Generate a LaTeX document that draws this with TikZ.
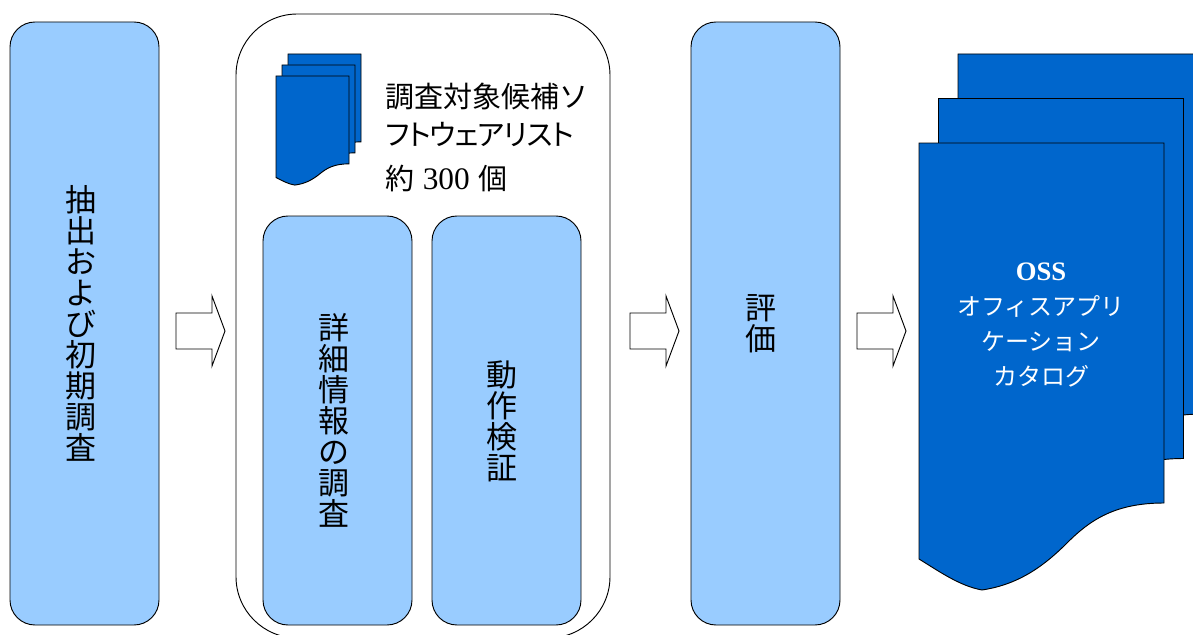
\documentclass[tikz,border=0pt]{standalone}
\usepackage{fontspec}
\setmainfont{Liberation Serif}
\newfontfamily\cjk{Noto Sans CJK JP}
\definecolor{lightblue}{HTML}{99CCFF}
\definecolor{docblue}{HTML}{0066CC}
\newcommand{\sheetpath}{(0,0) -- (245,0) -- (245,360) .. controls (196,360) and (171,377) .. (148,400) .. controls (121,427) and (96,442) .. (63,447) .. controls (41,443) and (21,429) .. (0,416) -- cycle}
\newcommand{\blockarrow}[2]{\draw[arrowline] (#1,#2) ++(0,-18) -- ++(36,0) -- ++(0,-17) -- ++(13,35) -- ++(-13,35) -- ++(0,-17) -- ++(-36,0) -- cycle;}
\tikzset{
  x=0.75pt,y=-0.75pt,
  panel/.style={draw=black,line width=0.7pt,fill=lightblue,rounded corners=18.75pt,minimum width=111.75pt,inner sep=0pt},
  outerpanel/.style={draw=black,line width=0.7pt,fill=white,rounded corners=46pt,minimum width=280.5pt,minimum height=468pt,inner sep=0pt},
  sheet/.style={draw=black,line width=0.7pt,fill=docblue},
  arrowline/.style={draw=black,line width=0.7pt,fill=white},
  vtext/.style={align=center,font=\fontsize{23.25pt}{23.25pt}\selectfont\cjk,inner sep=0pt},
  listtext/.style={align=left,anchor=north west,inner sep=0pt,font=\fontsize{21.75pt}{31pt}\selectfont\cjk},
  doctext/.style={align=center,text=white,inner sep=0pt,font=\fontsize{18pt}{26.25pt}\selectfont\cjk}
}
\begin{document}
\begin{tikzpicture}
\useasboundingbox (0,0) rectangle (1193,635);
\clip (0,0) rectangle (1193,635);
% left panel
\node[panel,minimum height=452.25pt] (p1) at (84.5,323.5) {};
\node[vtext] (t1) at (81,323) {抽\\出\\お\\よ\\び\\初\\期\\調\\査};
% centre outer panel
\node[outerpanel] (outer) at (423,326) {};
\node[panel,minimum height=306.75pt] (p2) at (337.5,420.5) {};
\node[panel,minimum height=306.75pt] (p3) at (506.5,420.5) {};
\node[vtext] (t2) at (334,420) {詳\\細\\情\\報\\の\\調\\査};
\node[vtext] (t3) at (502,421) {動\\作\\検\\証};
% small document stack
\draw[sheet,shift={(288,54)},xscale=.298,yscale=.244] \sheetpath;
\draw[sheet,shift={(282,65)},xscale=.298,yscale=.244] \sheetpath;
\draw[sheet,shift={(276,76)},xscale=.298,yscale=.244] \sheetpath;
\node[listtext] (list) at (385,83) {調査対象候補ソ\\[-3pt]{\addfontfeatures{RawFeature=+palt,LetterSpace=-3.4}フトウェアリスト}\\[2.5pt]約\hspace*{1.5pt} {\rmfamily\fontsize{23.5pt}{31pt}\selectfont 300} \hspace*{1.5pt}個};
% right panel
\node[panel,minimum height=452.25pt] (p4) at (765.5,323.5) {};
\node[vtext] (t4) at (761,324) {評\\価};
% large document stack
\draw[sheet,shift={(958,54)}] \sheetpath;
\draw[sheet,shift={(938.5,98.5)}] \sheetpath;
\draw[sheet,shift={(919,143)}] \sheetpath;
\node[doctext] (cat) at (1041,325) {{\rmfamily\bfseries\fontsize{20pt}{26.25pt}\selectfont OSS}\\オフィスアプリ\\ケーション\\カタログ};
% block arrows
\blockarrow{176}{331}
\blockarrow{630}{331}
\blockarrow{857}{331}
\end{tikzpicture}
\end{document}
